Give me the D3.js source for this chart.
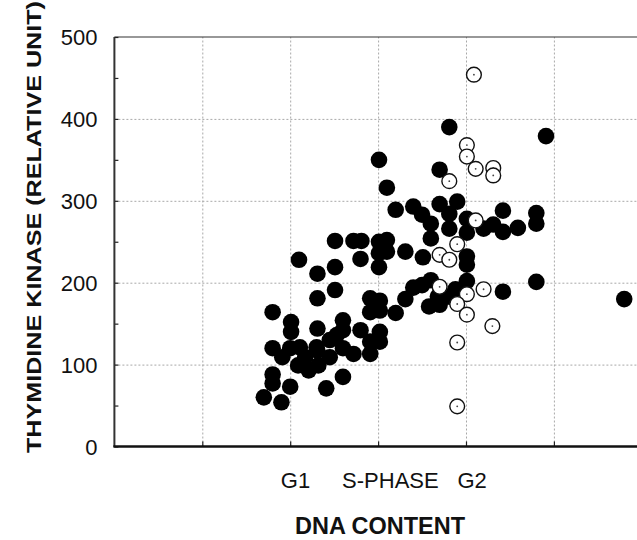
<!DOCTYPE html>
<html lang="en">
<head>
    <meta charset="UTF-8">
    <script src="https://cdn.jsdelivr.net/npm/d3@7"></script>
    <title>Thymidine kinase vs DNA content</title>
    <style>
        body { margin: 0; background: white; }
        text { font-family: 'Liberation Sans', Arial, sans-serif; fill: #111; }
        .grid line { stroke: #a8a8a8; stroke-dasharray: 2,2; stroke-width: 1; }
        .grid path { display: none; }
    </style>
</head>
<body>
<div class="fig"></div>
<script>
    // DNA content in grid units (G1 = 2, S-phase = 3, G2 = 4), kinase in relative units
    const solidX = [1.70,1.90,2.00,2.41,2.60,1.80,1.80,
        1.80,1.91,2.00,2.11,2.09,2.21,2.32,
        2.30,2.45,2.53,2.60,2.72,2.31,2.45,2.17,
        1.80,2.01,2.01,2.31,2.60,2.60,
        2.10,2.31,2.31,2.51,2.51,
        2.51,2.72,2.81,2.80,2.80,
        2.91,2.91,2.91,2.91,3.02,3.02,3.02,3.02,
        3.01,3.10,3.01,3.01,3.01,3.10,3.10,
        3.20,3.31,3.40,3.50,3.60,3.60,3.51,
        3.70,3.70,3.81,3.81,3.81,3.90,
        4.01,4.01,4.01,4.01,4.01,
        4.20,4.31,4.42,4.42,4.59,
        4.80,4.80,4.80,4.91,4.42,5.80,
        3.20,3.31,3.40,3.50,3.60,3.58,3.70,3.68,3.81,3.88];
    const solidY = [60,54,73,71,85,77,88,
        120,109,120,121,99,93,99,
        121,130,136,120,113,117,109,109,
        164,152,140,144,154,142,
        228,211,181,219,191,
        251,251,251,229,142,
        181,164,128,113,178,166,140,128,
        350,316,250,236,219,252,238,
        289,238,293,283,272,254,231,
        296,338,390,284,266,299,
        278,261,232,222,202,
        266,271,288,262,267,
        285,272,201,379,189,180,
        163,180,194,197,203,171,173,183,183,192];

    const openX = [4.09,4.01,4.01,4.11,4.31,4.31,3.81,4.11,3.90,3.70,3.81,3.70,4.01,4.20,3.90,4.01,4.30,3.90,3.90];
    const openY = [454,368,354,339,340,331,324,276,247,234,228,195,186,192,174,161,147,127,49];

    const yTicks = [0,100,200,300,400,500];
    const yMinor = [50,150,250,350,450];
    const xGrid = [1,2,3,4,5];
    const phaseLabels = ["G1","S-PHASE","G2"];
    const phaseAt = [2.06,3.14,4.07];

    const width = 637, height = 540;
    const svg = d3.select(".fig").append("svg")
        .attr("width", width)
        .attr("height", height);

    const x = d3.scaleLinear().domain([0,6]).range([114.4, 641.8]);
    const y = d3.scaleLinear().domain([0,500]).range([446.5, 37]);

    // grid
    svg.append("g").attr("class","grid")
        .attr("transform", `translate(${x(0)},0)`)
        .call(d3.axisLeft(y).tickValues([100,200,300,400]).tickSize(-(x(6)-x(0))).tickFormat(""));
    svg.append("g").attr("class","grid")
        .attr("transform", `translate(0,${y(0)})`)
        .call(d3.axisBottom(x).tickValues(xGrid).tickSize(-(y(0)-y(500))).tickFormat(""));

    // top border
    svg.append("line")
        .attr("x1", x(0)).attr("x2", x(6))
        .attr("y1", y(500)).attr("y2", y(500))
        .attr("stroke", "#333").attr("stroke-width", 1.2);

    // y axis labels
    const yAxis = svg.append("g")
        .attr("transform", `translate(${x(0)},0)`)
        .call(d3.axisLeft(y).tickValues(yTicks).tickSize(0).tickPadding(17));
    yAxis.select(".domain").remove();
    yAxis.selectAll("text")
        .style("font-family", "'Liberation Sans', Arial, sans-serif")
        .style("font-size", "22px")
        .attr("dy", "0.35em");

    // inner ticks on y axis
    svg.append("g")
        .attr("transform", `translate(${x(0)},0)`)
        .call(d3.axisRight(y).tickValues(yMinor.concat(yTicks)).tickSize(4).tickFormat(""))
        .call(g => g.select(".domain").remove())
        .selectAll("line").attr("stroke", "#222").attr("stroke-width", 1.2);

    // x ticks (pointing up)
    svg.append("g")
        .attr("transform", `translate(0,${y(0)})`)
        .call(d3.axisTop(x).tickValues(xGrid).tickSize(5).tickFormat(""))
        .call(g => g.select(".domain").remove())
        .selectAll("line").attr("stroke", "#222").attr("stroke-width", 1.2);

    // axis lines
    svg.append("line")
        .attr("x1", x(0)).attr("x2", x(0))
        .attr("y1", y(500)).attr("y2", y(0) + 0.5)
        .attr("stroke", "#333").attr("stroke-width", 2);
    svg.append("line")
        .attr("x1", x(0) - 1).attr("x2", x(6))
        .attr("y1", y(0)).attr("y2", y(0))
        .attr("stroke", "#111").attr("stroke-width", 2.5);

    // phase labels
    svg.selectAll(".phase")
        .data(phaseLabels)
        .enter()
        .append("text")
        .attr("class", "phase")
        .attr("x", (d, i) => x(phaseAt[i]))
        .attr("y", 488)
        .attr("text-anchor", "middle")
        .style("font-size", "22px")
        .text(d => d);

    // axis titles
    svg.append("text")
        .attr("x", 380).attr("y", 534)
        .attr("text-anchor", "middle")
        .attr("textLength", 170)
        .attr("lengthAdjust", "spacingAndGlyphs")
        .style("font-size", "23px")
        .style("font-weight", "bold")
        .text("DNA CONTENT");

    svg.append("text")
        .attr("transform", "translate(40.5,453) rotate(-90)")
        .attr("text-anchor", "start")
        .attr("textLength", 452)
        .attr("lengthAdjust", "spacingAndGlyphs")
        .style("font-size", "21px")
        .style("font-weight", "bold")
        .text("THYMIDINE KINASE (RELATIVE UNIT)");

    // points
    svg.append("g").selectAll("circle")
        .data(solidX)
        .enter()
        .append("circle")
        .attr("cx", d => x(d))
        .attr("cy", (d, i) => y(solidY[i]))
        .attr("r", 8.3)
        .attr("fill", "#000");

    const open = svg.append("g").selectAll("g")
        .data(openX)
        .enter()
        .append("g");
    open.append("circle")
        .attr("cx", d => x(d))
        .attr("cy", (d, i) => y(openY[i]))
        .attr("r", 7.4)
        .attr("fill", "#fff")
        .attr("stroke", "#111")
        .attr("stroke-width", 1.4);
    open.append("circle")
        .attr("cx", d => x(d))
        .attr("cy", (d, i) => y(openY[i]))
        .attr("r", 0.9)
        .attr("fill", "#444");
</script>
</body>
</html>
